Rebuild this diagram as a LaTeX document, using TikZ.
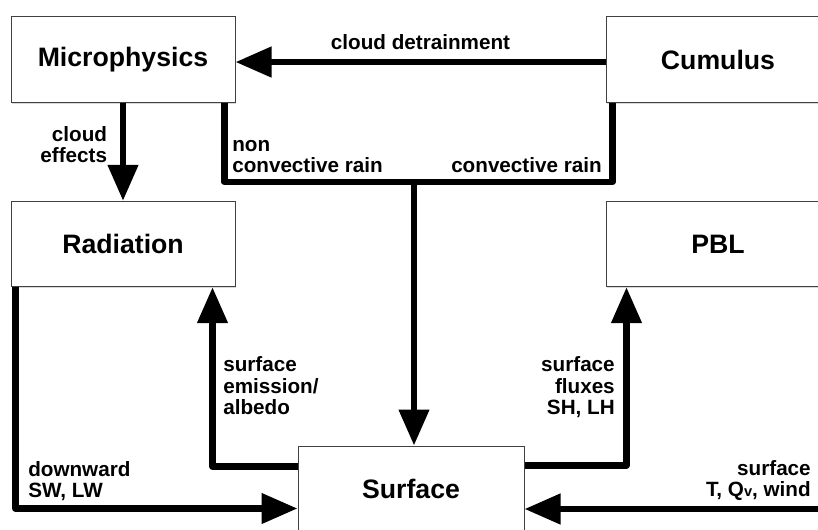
\documentclass[tikz,border=0pt]{standalone}
\usepackage{fontspec}
\setmainfont{Liberation Sans}
\usetikzlibrary{arrows.meta,shadows}

\begin{document}
\begin{tikzpicture}[x=0.75pt,y=-0.75pt]
	\tikzset{module/.style={draw=black!75,
				fill=white,
				rectangle,
				line width=0.75pt,
				inner sep=0pt,
				minimum width=168pt,
				minimum height=64pt,
				font=\fontsize{20}{24}\selectfont\bfseries,
				drop shadow={shadow xshift=0.4pt, shadow yshift=-1.2pt, opacity=0.3}},
			arrow/.style={-{Triangle[length=27pt,width=22pt]},
				line width=4.9pt,
				line join=round},
			link/.style={line width=4.9pt,
				line join=round},
			note/.style={inner sep=0pt,
				font=\fontsize{15.5}{16}\selectfont\bfseries}}
	\useasboundingbox (0,0) rectangle (818,529);
	\clip (0,0) rectangle (818,529);

	% Nodes
	\node[module] (micro) at (123,59.5) {Microphysics};
	\node[module] (cumulus) at (718,59.5) {Cumulus};
	\node[module] (rad) at (123,244) {Radiation};
	\node[module] (pbl) at (718,244) {PBL};
	\node[module, minimum width=169.5pt, minimum height=64.5pt] (surf) at (411,489) {Surface};
	\coordinate (rain) at (414,182);
	\coordinate (edge) at (818,509);

	% Arrows
	\draw[arrow] ([yshift=-1.9pt]cumulus.west) -- ([yshift=-1.9pt]micro.east)
		node[note, midway, above=6.5pt] (detrain) {cloud detrainment};
	\draw[arrow] (micro) -- (rad)
		node[note, pos=0.43, left=9.5pt, align=right] (effects) {cloud\\effects};
	\draw[link] ([xshift=-8.25pt]micro.south east) |- (rain) -| ([xshift=5.25pt]cumulus.south west);
	\draw[arrow] (rain) -- (rain |- surf.north);
	\node[note, anchor=south west, align=left] (nonconv) at (232,173) {non\\convective rain};
	\node[note, anchor=south east] (conv) at (602,173) {convective rain};

	\draw[arrow] ([yshift=-15.75pt]surf.north west) -| ([xshift=-17.25pt]rad.south east);
	\node[note, anchor=south west, align=left] (emission) at (223,415) {surface\\emission/\\albedo};
	\draw[arrow] ([xshift=3.75pt]rad.south west) |- ([yshift=-47.25pt]surf.north west);
	\node[note, anchor=south west, align=left] (downward) at (28,501) {downward\\SW, LW};

	\draw[arrow] ([yshift=-15pt]surf.north east) -| ([xshift=15.75pt]pbl.south west);
	\node[note, anchor=south east, align=right] (fluxes) at (615,418) {surface\\fluxes\\SH, LH};
	\draw[arrow] (edge) -- (edge -| surf.east);
	\node[note, anchor=south east, align=right] (surfvars) at (811,501) {surface\\T, Q{\fontsize{11}{11}\selectfont v}, wind};
\end{tikzpicture}
\end{document}
